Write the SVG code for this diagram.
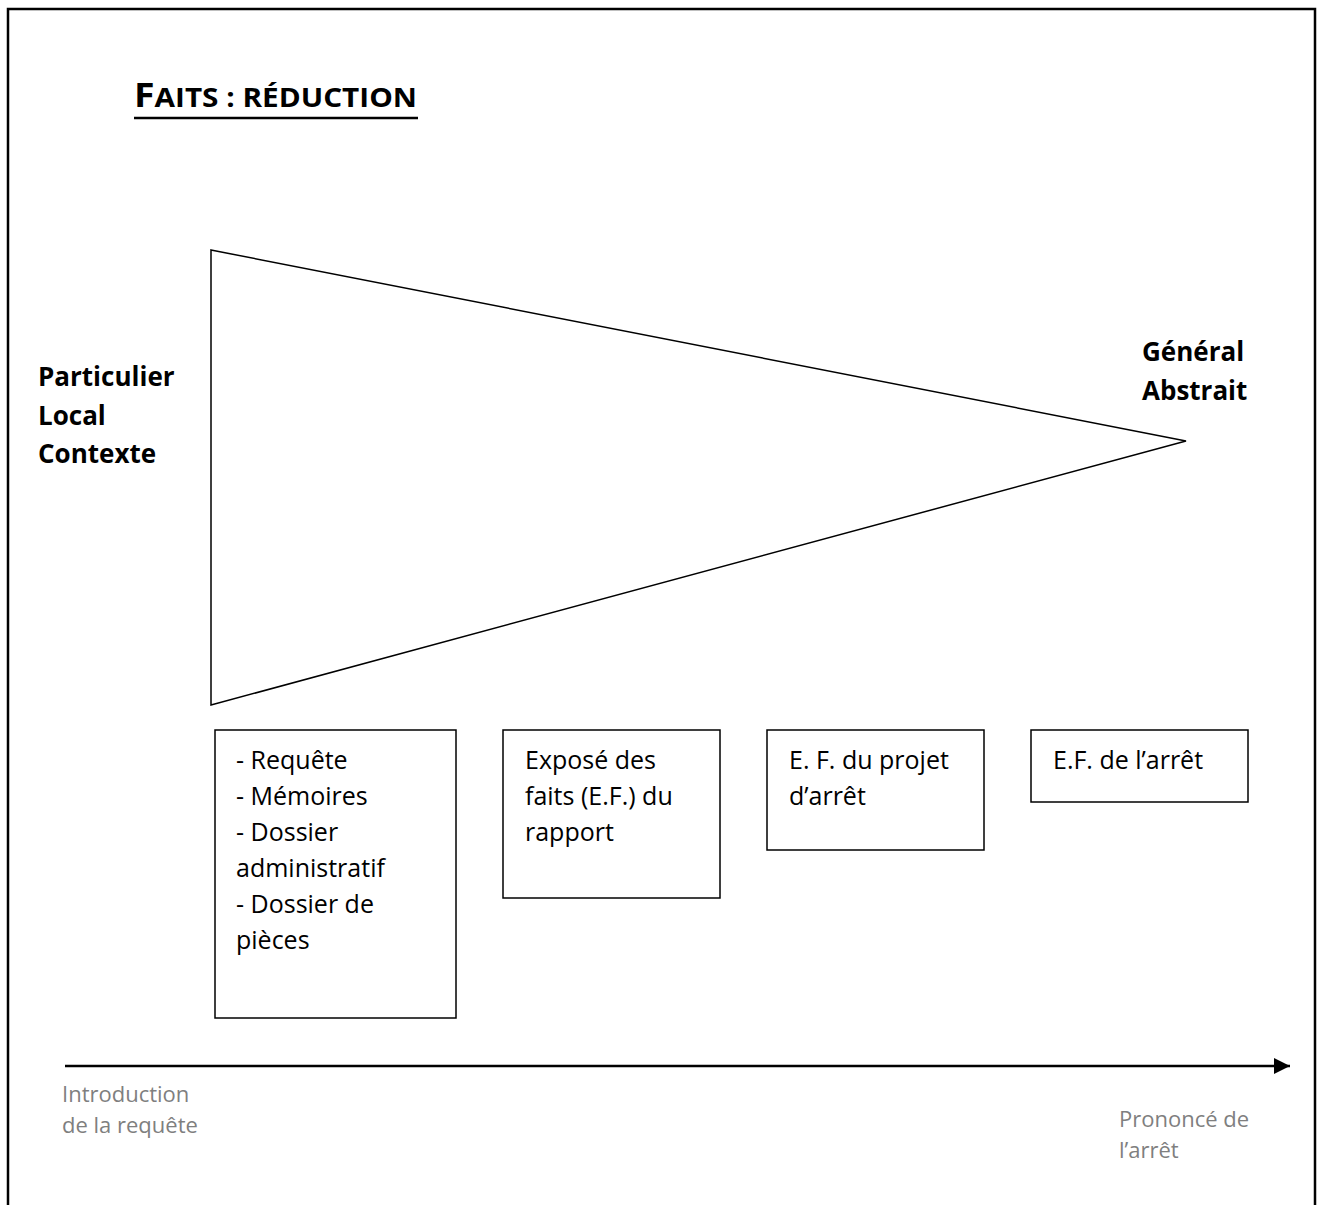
<svg xmlns="http://www.w3.org/2000/svg" width="1323" height="1205" viewBox="0 0 1323 1205">
  <defs>
    <marker id="arrowhead" markerWidth="16" markerHeight="16" refX="16" refY="8" orient="auto" markerUnits="userSpaceOnUse">
      <path d="M0,0 L16,8 L0,16 Z" fill="#000"/>
    </marker>
  </defs>
  <style>
    .frame { fill: none; stroke: #000; stroke-width: 2.5; }
    .shape { fill: #fff; stroke: #000; stroke-width: 1.5; }
    .body { font-family: "Open Sans", "Liberation Sans", sans-serif; font-size: 25px; fill: #000; }
    .side { font-family: "Open Sans", "Liberation Sans", sans-serif; font-size: 26px; font-weight: bold; fill: #000; }
    .title { font-family: "Open Sans", "Liberation Sans", sans-serif; font-weight: bold; fill: #000; }
    .time { font-family: "Open Sans", "Liberation Sans", sans-serif; font-size: 22px; fill: #7f7f7f; }
    .axis { stroke: #000; stroke-width: 2.5; fill: none; }
  </style>

  <rect width="1323" height="1205" fill="#fff"/>

  <!-- page frame, open at the bottom -->
  <path class="frame" d="M8,1210 L8,9 L1315,9 L1315,1210"/>

  <!-- title in small caps, underlined -->
  <g id="title">
    <text class="title" x="134" y="107" font-size="34" textLength="283" lengthAdjust="spacingAndGlyphs">F<tspan font-size="27">AITS : RÉDUCTION</tspan></text>
    <line x1="134" y1="118" x2="418" y2="118" stroke="#000" stroke-width="2.4"/>
  </g>

  <!-- reduction funnel -->
  <g id="funnel">
    <polygon class="shape" points="211,250 1186,441 211,705"/>
  </g>

  <g id="label-left">
    <text class="side" x="38" y="386">Particulier</text>
    <text class="side" x="38" y="425">Local</text>
    <text class="side" x="38" y="463">Contexte</text>
  </g>

  <g id="label-right">
    <text class="side" x="1142" y="361">Général</text>
    <text class="side" x="1142" y="400">Abstrait</text>
  </g>

  <!-- documents along the procedure -->
  <g id="box-dossier">
    <rect class="shape" x="215" y="730" width="241" height="288"/>
    <text class="body" x="236" y="769">- Requête</text>
    <text class="body" x="236" y="805">- Mémoires</text>
    <text class="body" x="236" y="841">- Dossier</text>
    <text class="body" x="236" y="877">administratif</text>
    <text class="body" x="236" y="913">- Dossier de</text>
    <text class="body" x="236" y="949">pièces</text>
  </g>

  <g id="box-rapport">
    <rect class="shape" x="503" y="730" width="217" height="168"/>
    <text class="body" x="525" y="769">Exposé des</text>
    <text class="body" x="525" y="805">faits (E.F.) du</text>
    <text class="body" x="525" y="841">rapport</text>
  </g>

  <g id="box-projet">
    <rect class="shape" x="767" y="730" width="217" height="120"/>
    <text class="body" x="789" y="769">E. F. du projet</text>
    <text class="body" x="789" y="805">d’arrêt</text>
  </g>

  <g id="box-arret">
    <rect class="shape" x="1031" y="730" width="217" height="72"/>
    <text class="body" x="1053" y="769">E.F. de l’arrêt</text>
  </g>

  <!-- time axis -->
  <g id="connectors">
    <line class="axis" x1="65" y1="1066" x2="1290" y2="1066" marker-end="url(#arrowhead)"/>
  </g>

  <g id="axis-start">
    <text class="time" x="62" y="1102">Introduction</text>
    <text class="time" x="62" y="1133">de la requête</text>
  </g>

  <g id="axis-end">
    <text class="time" x="1119" y="1127">Prononcé de</text>
    <text class="time" x="1119" y="1158">l’arrêt</text>
  </g>
</svg>
